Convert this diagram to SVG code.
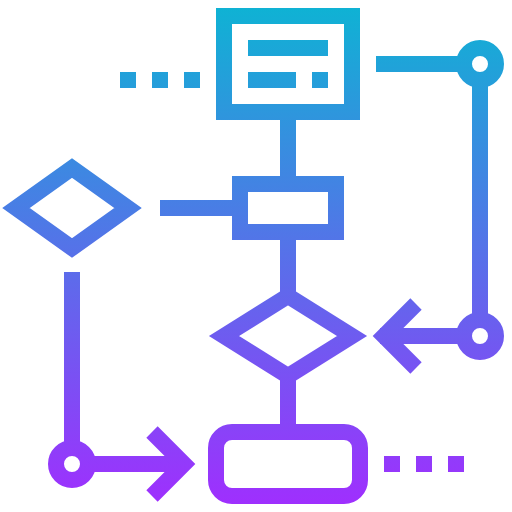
<svg xmlns="http://www.w3.org/2000/svg" width="512" height="512" viewBox="0 0 512 512">
<defs>
<linearGradient id="g" gradientUnits="userSpaceOnUse" x1="0" y1="8" x2="0" y2="504">
<stop offset="0" stop-color="#0fb2d4"/>
<stop offset="1" stop-color="#9f2ffe"/>
</linearGradient>
<style>
.s{fill:none;stroke:url(#g);stroke-width:16;stroke-linejoin:miter;stroke-linecap:butt}
.f{fill:url(#g)}
</style>
</defs>
<rect width="512" height="512" fill="#fff"/>
<g id="connectors">
<line class="s" x1="288" y1="120" x2="288" y2="176"/>
<line class="s" x1="288" y1="240" x2="288" y2="292"/>
<line class="s" x1="288" y1="380" x2="288" y2="424"/>
<line class="s" x1="160" y1="208" x2="232" y2="208"/>
<line class="s" x1="376" y1="64" x2="464" y2="64"/>
<line class="s" x1="480" y1="80" x2="480" y2="320"/>
<circle class="s" cx="480" cy="64" r="16"/>
<circle class="s" cx="480" cy="336" r="16"/>
<line class="s" x1="380" y1="336" x2="464" y2="336"/>
<polyline class="s" points="416,304 384,336 416,368"/>
<line class="s" x1="72" y1="272" x2="72" y2="448"/>
<circle class="s" cx="72" cy="464" r="16"/>
<line class="s" x1="88" y1="464" x2="180" y2="464"/>
<polyline class="s" points="152,432 184,464 152,496"/>
<g id="dots-left">
<rect class="f" x="120" y="72" width="16" height="16"/>
<rect class="f" x="152" y="72" width="16" height="16"/>
<rect class="f" x="184" y="72" width="16" height="16"/>
</g>
<g id="dots-right">
<rect class="f" x="384" y="456" width="16" height="16"/>
<rect class="f" x="416" y="456" width="16" height="16"/>
<rect class="f" x="448" y="456" width="16" height="16"/>
</g>
</g>
<g id="document">
<rect class="s" x="224" y="16" width="128" height="96"/>
<rect class="f" x="248" y="40" width="80" height="16"/>
<rect class="f" x="248" y="72" width="48" height="16"/>
<rect class="f" x="312" y="72" width="16" height="16"/>
</g>
<g id="process">
<rect class="s" x="240" y="184" width="96" height="48"/>
</g>
<g id="decision-left">
<polygon class="s" points="16,208 72,168 128,208 72,248"/>
</g>
<g id="decision-center">
<polygon class="s" points="224,336 288,296 352,336 288,376"/>
</g>
<g id="terminal">
<rect class="s" x="216" y="432" width="144" height="64" rx="16" ry="16"/>
</g>
</svg>
